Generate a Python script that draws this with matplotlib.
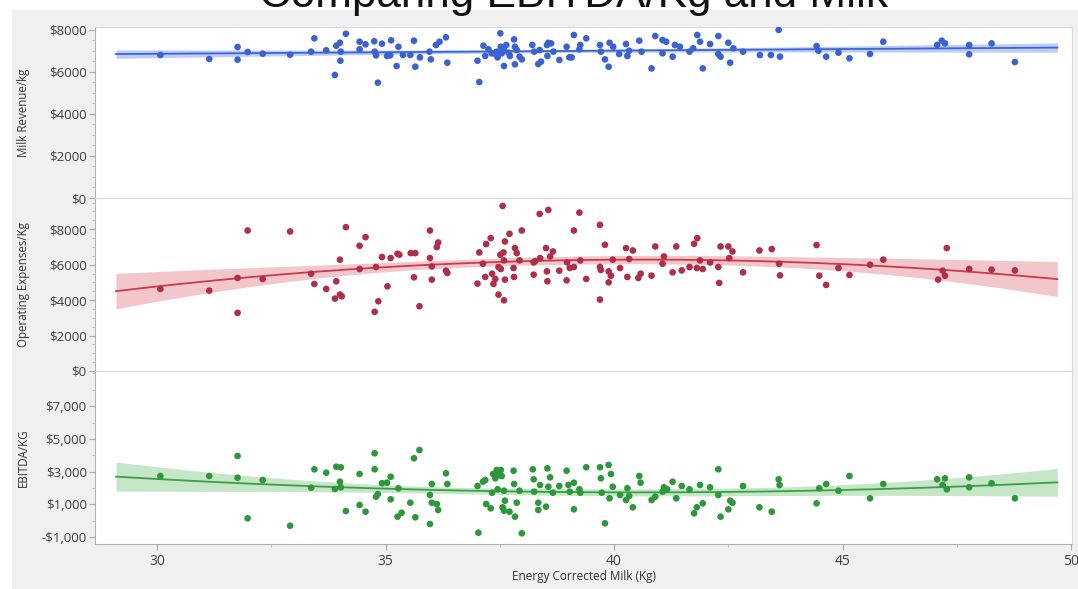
import numpy as np
import matplotlib
matplotlib.use("Agg")
import matplotlib.pyplot as plt
from matplotlib.patches import Rectangle
from matplotlib.ticker import FuncFormatter, MultipleLocator

# ---- data: energy corrected milk (kg) vs. per-kg economics ----
rev_x = [30.07, 31.14, 31.76, 31.76, 31.98, 32.31, 32.91, 33.37, 33.44, 33.70, 33.89, 33.92, 34.00, 34.02,
         34.01, 34.13, 34.43, 34.43, 34.56, 34.75, 34.76, 34.79, 34.83, 34.92, 35.03, 35.10, 35.12, 35.24,
         35.28, 35.38, 35.54, 35.62, 35.65, 35.75, 35.96, 35.99, 36.10, 36.18, 36.32, 36.35, 37.01, 37.05,
         37.14, 37.18, 37.25, 37.32, 37.40, 37.43, 37.45, 37.51, 37.52, 37.54, 37.59, 37.59, 37.64, 37.69,
         37.72, 37.81, 37.83, 37.83, 37.87, 37.93, 37.98, 38.21, 38.25, 38.34, 38.37, 38.40, 38.53, 38.54,
         38.56, 38.62, 38.67, 38.80, 38.96, 39.02, 39.07, 39.12, 39.24, 39.26, 39.39, 39.69, 39.71, 39.80,
         39.88, 39.90, 39.98, 40.11, 40.26, 40.29, 40.33, 40.55, 40.60, 40.82, 40.90, 41.06, 41.06, 41.14,
         41.28, 41.33, 41.44, 41.65, 41.73, 41.82, 41.88, 41.94, 42.10, 42.28, 42.28, 42.33, 42.50, 42.54,
         42.61, 42.82, 43.19, 43.43, 43.60, 43.63, 44.43, 44.47, 44.64, 44.91, 45.15, 45.60, 45.89, 47.07,
         47.17, 47.24, 47.77, 47.77, 48.26, 48.77]
rev_y = [6807, 6617, 7188, 6585, 6950, 6870, 6822, 6966, 7600, 7030, 5855, 7250, 7390, 6966,
         6535, 7820, 7440, 7078, 7316, 7459, 6966, 6790, 5490, 7345, 6760, 6790, 7505, 6283,
         7200, 6807, 6807, 7490, 6250, 6695, 6966, 6600, 7283, 7440, 7650, 6440, 6535, 5520,
         7250, 6760, 7078, 6886, 6855, 6966, 6695, 7840, 7200, 6886, 7045, 6283, 7283, 6918,
         6760, 7550, 7200, 6362, 7045, 6728, 6600, 7283, 6966, 6378, 7045, 6490, 7283, 6760,
         7390, 7360, 6966, 6570, 7200, 6695, 6695, 7760, 7078, 7283, 7600, 7283, 6966, 6600,
         6250, 7390, 7200, 6855, 7330, 6760, 7010, 7490, 6966, 6170, 7710, 7520, 6886, 7440,
         6728, 7283, 7200, 6966, 7125, 7760, 7440, 6170, 7330, 7710, 6855, 6728, 7390, 6440,
         7125, 6966, 6807, 6807, 8000, 6728, 7235, 7010, 6728, 6918, 6650, 6855, 7440, 7283,
         7490, 7360, 7283, 6840, 7360, 6474]

opex_x = [30.07, 31.14, 31.76, 31.76, 31.98, 32.31, 32.91, 33.37, 33.44, 33.70, 33.89, 33.92, 34.00, 34.00,
          34.04, 34.13, 34.43, 34.43, 34.56, 34.76, 34.79, 34.84, 34.92, 35.04, 35.11, 35.26, 35.30, 35.55,
          35.65, 35.62, 35.74, 35.97, 35.97, 36.01, 36.01, 36.12, 36.15, 36.32, 36.35, 37.01, 37.05, 37.13,
          37.18, 37.20, 37.30, 37.33, 37.36, 37.40, 37.47, 37.47, 37.51, 37.52, 37.56, 37.58, 37.59, 37.59,
          37.61, 37.61, 37.71, 37.80, 37.81, 37.83, 37.87, 37.93, 37.98, 38.24, 38.24, 38.27, 38.37, 38.38,
          38.51, 38.53, 38.54, 38.56, 38.60, 38.66, 38.80, 38.96, 38.97, 39.03, 39.12, 39.12, 39.24, 39.26,
          39.39, 39.69, 39.69, 39.69, 39.71, 39.80, 39.88, 39.88, 39.93, 39.97, 40.13, 40.26, 40.29, 40.33,
          40.41, 40.53, 40.58, 40.82, 40.90, 41.06, 41.09, 41.28, 41.36, 41.48, 41.65, 41.75, 41.81, 41.82,
          41.88, 41.94, 42.10, 42.28, 42.30, 42.33, 42.50, 42.52, 42.59, 42.82, 43.18, 43.45, 43.61, 43.63,
          44.43, 44.49, 44.64, 44.91, 45.15, 45.60, 45.89, 47.09, 47.19, 47.24, 47.28, 47.77, 48.26, 48.77]
opex_y = [4630, 4535, 5250, 3280, 7925, 5190, 7870, 5490, 4910, 4630, 4085, 5060, 6280, 4310,
          4215, 8115, 7065, 5755, 7553, 3338, 5867, 3934, 6430, 4777, 6373, 6615, 6560, 6650,
          6650, 5285, 3655, 7925, 6373, 5900, 5155, 6990, 7250, 5660, 5530, 4930, 6690, 6053,
          5305, 7160, 7497, 5490, 4912, 5193, 5867, 4310, 6560, 5755, 9312, 6690, 6240, 3990,
          5155, 7306, 7740, 5810, 5305, 6935, 6650, 6240, 7925, 6125, 5435, 6200, 8863, 6373,
          6935, 5620, 5060, 9088, 6463, 6744, 5660, 5115, 6125, 5810, 7925, 5867, 8936, 6240,
          5193, 8245, 5867, 4030, 5700, 7120, 5620, 5002, 5378, 6280, 5810, 6935, 5305, 6317,
          6800, 5250, 5490, 5378, 7025, 6053, 6463, 5565, 7025, 5676, 5867, 7177, 5810, 7497,
          6240, 5755, 6125, 5867, 4968, 7025, 7025, 6373, 6744, 5565, 6800, 6879, 6053, 5395,
          7104, 5378, 4856, 5810, 5418, 5997, 6280, 5155, 5660, 5378, 6935, 5755, 5716, 5676]

ebitda_x = [30.07, 31.14, 31.76, 31.76, 31.98, 32.31, 32.91, 33.37, 33.44, 33.70, 33.89, 33.92, 34.00, 34.02,
            34.02, 34.13, 34.43, 34.43, 34.56, 34.76, 34.76, 34.79, 34.83, 34.92, 35.03, 35.11, 35.11, 35.26,
            35.28, 35.35, 35.62, 35.74, 35.65, 35.54, 35.97, 35.97, 36.01, 36.01, 36.12, 36.15, 36.32, 36.35,
            37.03, 37.01, 37.13, 37.18, 37.20, 37.30, 37.33, 37.35, 37.40, 37.43, 37.45, 37.47, 37.52, 37.54,
            37.56, 37.59, 37.61, 37.59, 37.71, 37.80, 37.81, 37.83, 37.87, 37.93, 37.98, 38.22, 38.24, 38.25,
            38.34, 38.34, 38.38, 38.51, 38.54, 38.56, 38.60, 38.66, 38.80, 38.96, 39.00, 39.03, 39.12, 39.12,
            39.24, 39.26, 39.39, 39.69, 39.71, 39.73, 39.80, 39.88, 39.90, 39.93, 39.97, 40.13, 40.26, 40.29,
            40.33, 40.41, 40.55, 40.58, 40.82, 40.90, 41.06, 41.09, 41.16, 41.28, 41.36, 41.48, 41.65, 41.75,
            41.81, 41.88, 41.94, 42.10, 42.28, 42.28, 42.33, 42.50, 42.54, 42.59, 42.82, 43.18, 43.45, 43.60,
            43.62, 44.43, 44.49, 44.64, 44.91, 45.15, 45.60, 45.89, 47.07, 47.24, 47.19, 47.28, 47.77, 47.77,
            48.26, 48.77]
ebitda_y = [2737, 2737, 3960, 2634, 154, 2493, -298, 2023, 3146, 2940, 1943, 3305, 2390, 2047,
            3270, 600, 2860, 966, 557, 4123, 3146, 1473, 1637, 2292, 2330, 2695, 1315, 252,
            1986, 496, 3818, 4325, 215, 1107, 1577, -194, 2249, 1107, 1028, 661, 2902, 2249,
            -725, 2127, 2390, 2493, 1028, 765, 1717, 2860, 2597, 3104, 1925, 2798, 3104, 2737,
            826, 618, 1230, 1840, 557, 3061, 2249, 252, 1107, 1840, -762, 3146, 2536, 1779,
            1107, 661, 2188, 865, 3207, 2084, 2658, 1717, 2127, 3061, 2188, 1779, 2330, 704,
            1925, 1717, 3270, 3270, 2597, 1717, -152, 3410, 1376, 2860, 2084, 1577, 1272, 1986,
            1516, 826, 2737, 2330, 1272, 1473, 1779, 2047, 1925, 2390, 1376, 2127, 1925, 459,
            826, 2188, 1069, 2047, 3146, 1577, 252, 704, 1230, 1107, 2127, 826, 557, 2536,
            2188, 1069, 1986, 2249, 1840, 2737, 1376, 2249, 2536, 2597, 2188, 1925, 2658, 2047,
            2292, 1376]

panel_labels = ["Milk Revenue/kg", "Operating Expenses/Kg", "EBITDA/KG"]
x_label = "Energy Corrected Milk (Kg)"
title = "Comparing EBITDA/Kg and Milk"


def poly_fit_band(x, y, deg, grid, t=1.97):
    """Least-squares polynomial fit with a confidence band for the mean."""
    x = np.asarray(x, float)
    y = np.asarray(y, float)
    X = np.vander(x, deg + 1)
    beta, *_ = np.linalg.lstsq(X, y, rcond=None)
    resid = y - X @ beta
    s2 = resid @ resid / (len(x) - (deg + 1))
    cov = s2 * np.linalg.inv(X.T @ X)
    G = np.vander(grid, deg + 1)
    yg = G @ beta
    se = np.sqrt(np.einsum("ij,jk,ik->i", G, cov, G))
    return yg, yg - t * se, yg + t * se


W, H = 1078, 589
fig = plt.figure(figsize=(W / 100, H / 100), dpi=100, facecolor="white")
plt.rcParams["font.family"] = ["Open Sans", "DejaVu Sans"]

# light gray report background
fig.patches.append(Rectangle((12 / W, 0), 1 - 12 / W, 1 - 10 / H, transform=fig.transFigure,
                             facecolor="#f0f0f0", edgecolor="none", zorder=-10))

# the report title sits partly above the top edge of the page
fig.text(573 / W, 1 - 7 / H, title, ha="center", va="baseline", fontsize=31.7,
         family=["Liberation Sans", "DejaVu Sans"], color="#111111")

left, right = 95 / W, 1072 / W
bounds = [(27, 198), (198, 371), (371, 544)]
ylims = [(0, 8140), (0, 9760), (-1415, 9150)]
majors = [2000, 2000, 2000]
fmts = [lambda v, p: f"${v:.0f}" if v >= 0 else f"-${-v:.0f}",
        lambda v, p: f"${v:.0f}" if v >= 0 else f"-${-v:.0f}",
        lambda v, p: f"${v:,.0f}" if v >= 0 else f"-${-v:,.0f}"]
series = [(rev_x, rev_y, 1, "#3c62d2", "#3a66d8", "#a8bdf0"),
          (opex_x, opex_y, 2, "#b02e48", "#cc3a4e", "#efb4bc"),
          (ebitda_x, ebitda_y, 2, "#2e963b", "#3aa046", "#b4deb6")]

grid = np.linspace(29.1, 49.7, 200)
axes = []
for i, ((top, bot), (xs, ys, deg, pc, lc, bc)) in enumerate(zip(bounds, series)):
    ax = fig.add_axes([left, 1 - bot / H, right - left, (bot - top) / H])
    ax.set_facecolor("white")
    fit, lo, hi = poly_fit_band(xs, ys, deg, grid)
    ax.fill_between(grid, lo, hi, color=bc, alpha=0.75, linewidth=0, zorder=1)
    ax.plot(grid, fit, color=lc, linewidth=1.3, zorder=2)
    ax.scatter(xs, ys, s=23, color=pc, edgecolors="none", zorder=3)
    ax.set_xlim(28.64, 50.02)
    ax.set_ylim(*ylims[i])
    if i == 2:
        ax.set_yticks([-1000, 1000, 3000, 5000, 7000])
    else:
        ax.yaxis.set_major_locator(MultipleLocator(majors[i]))
    ax.yaxis.set_minor_locator(MultipleLocator(500 if i < 2 else 1000))
    ax.yaxis.set_major_formatter(FuncFormatter(fmts[i]))
    ax.xaxis.set_major_locator(MultipleLocator(5))
    ax.xaxis.set_minor_locator(MultipleLocator(2.5))
    ax.set_ylabel(panel_labels[i], fontsize=8.3, color="#333333", labelpad=6)
    ax.tick_params(axis="y", which="major", length=4, width=0.8, color="#aaaaaa",
                   labelsize=9.5, labelcolor="#404040", pad=2)
    ax.tick_params(axis="y", which="minor", length=2, width=0.6, color="#bbbbbb")
    ax.tick_params(axis="x", which="major", length=4, width=0.8, color="#aaaaaa",
                   labelsize=10, labelcolor="#404040", pad=3)
    ax.tick_params(axis="x", which="minor", length=2, width=0.6, color="#bbbbbb")
    for side in ("top", "right"):
        ax.spines[side].set_color("#d8d8d8")
        ax.spines[side].set_linewidth(0.8)
    ax.spines["left"].set_color("#b0b0b0")
    ax.spines["bottom"].set_color("#d8d8d8" if i < 2 else "#b0b0b0")
    if i < 2:
        ax.tick_params(axis="x", which="both", bottom=False, labelbottom=False)
    axes.append(ax)

axes[2].set_xlabel(x_label, fontsize=8.5, color="#333333", labelpad=1)
for ax in axes:
    ax.yaxis.set_label_coords(-0.067, 0.5)

fig.savefig("out.png", dpi=100, facecolor=fig.get_facecolor())
